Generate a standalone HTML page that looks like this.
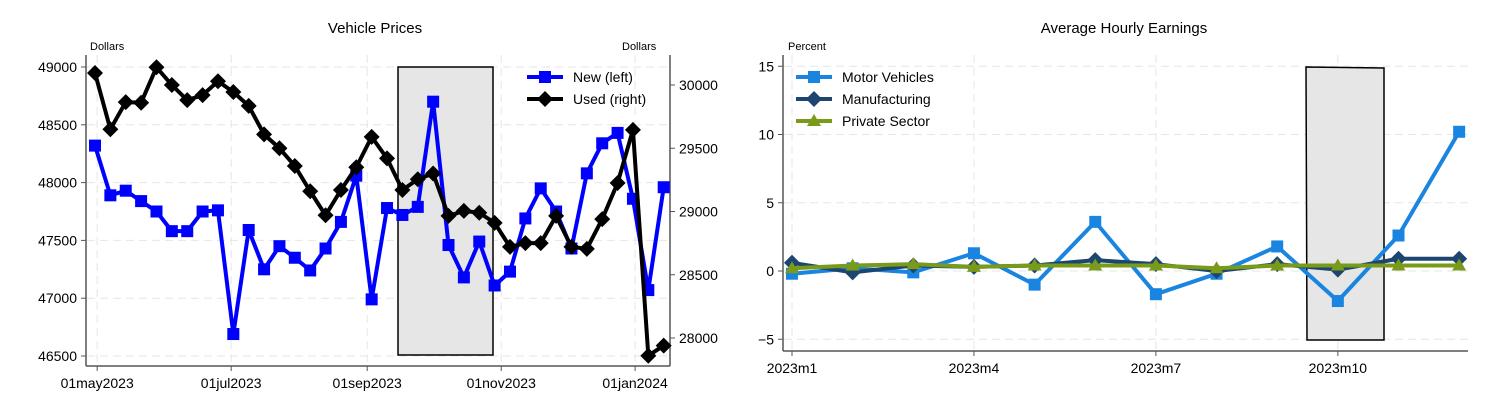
<!DOCTYPE html>
<html><head><meta charset="utf-8"><style>
body{margin:0;background:#fff;width:1500px;height:404px;overflow:hidden}
svg{font-family:"Liberation Sans",sans-serif}
</style></head><body>
<svg id="c" width="1500" height="404" viewBox="0 0 1500 404"></svg>
<script>
// ---- Vehicle Prices data ----
const newPrices=[48320,47890,47930,47840,47750,47580,47580,47750,47760,46690,47590,47250,47450,47350,47240,47430,47660,48060,46990,47780,47720,47790,48700,47460,47180,47490,47110,47230,47690,47950,47750,47430,48080,48340,48430,47860,47070,47960];
const usedPrices=[30095,29650,29865,29860,30140,30000,29880,29920,30030,29945,29835,29610,29500,29360,29160,28970,29170,29350,29590,29420,29170,29255,29300,28965,29005,28990,28910,28720,28750,28750,28965,28720,28705,28940,29225,29645,27860,27940];
const leftTicks=[46500,47000,47500,48000,48500,49000];
const rightTicks=[28000,28500,29000,29500,30000];
const dateTicks=["01may2023","01jul2023","01sep2023","01nov2023","01jan2024"];
const dateTickWeeks=[0.14,8.86,17.71,26.43,35.14];
// ---- Average Hourly Earnings data ----
const months=["2023m1","2023m2","2023m3","2023m4","2023m5","2023m6","2023m7","2023m8","2023m9","2023m10","2023m11","2023m12"];
const motorVehicles=[-0.2,0.2,-0.1,1.3,-1.0,3.6,-1.7,-0.2,1.8,-2.2,2.6,10.2];
const manufacturing=[0.6,-0.1,0.4,0.3,0.4,0.8,0.5,0.0,0.5,0.1,0.9,0.9];
const privateSector=[0.2,0.4,0.5,0.3,0.4,0.4,0.4,0.2,0.4,0.4,0.4,0.4];
const pctTicks=[-5,0,5,10,15];
const monthTickIdx=[0,3,6,9];

const svg=document.getElementById('c');
const NS='http://www.w3.org/2000/svg';
function mk(tag,attrs,parent){const e=document.createElementNS(NS,tag);for(const k in attrs)e.setAttribute(k,attrs[k]);(parent||svg).appendChild(e);return e;}
function txt(x,y,s,size,anchor,parent){const t=mk('text',{x:x,y:y,'font-size':size,'text-anchor':anchor||'start',fill:'#000'},parent);t.textContent=s;return t;}

// ===== Left chart =====
const xL=w=>95+w*15.37;
const yL=v=>67+(49000-v)*0.1156;
const yR=v=>85+(30000-v)*0.1265;
const g1=mk('g',{});


// gridlines
leftTicks.forEach(v=>{const l=mk('line',{x1:87,x2:669,y1:yL(v),y2:yL(v),stroke:'#e6e6e6','stroke-dasharray':'8,5'},g1);});
dateTickWeeks.forEach(w=>{const l=mk('line',{x1:xL(w),x2:xL(w),y1:55,y2:366,stroke:'#e6e6e6','stroke-dasharray':'8,5'},g1);});
// shaded box
const sb=mk('rect',{x:398,y:67,width:95,height:288,fill:'#e6e6e6',stroke:'#000','stroke-width':1.5},g1);


// axes
mk('line',{x1:86,x2:86,y1:55,y2:366,stroke:'#555','stroke-width':1.5},g1);
mk('line',{x1:86,x2:670,y1:366,y2:366,stroke:'#555','stroke-width':1.5},g1);
mk('line',{x1:670,x2:670,y1:55,y2:366,stroke:'#555','stroke-width':1.5},g1);
leftTicks.forEach(v=>{mk('line',{x1:81,x2:86,y1:yL(v),y2:yL(v),stroke:'#555'},g1);const t=txt(77,yL(v)+5,String(v),14,'end',g1);});
rightTicks.forEach(v=>{mk('line',{x1:670,x2:675,y1:yR(v),y2:yR(v),stroke:'#555'},g1);const t=txt(679,yR(v)+5,String(v),14,'start',g1);});
dateTicks.forEach((s,i)=>{const x=xL(dateTickWeeks[i]);mk('line',{x1:x,x2:x,y1:366,y2:371,stroke:'#555'},g1);const t=txt(x,388,s,14,'middle',g1);});
let t1=txt(375,33,'Vehicle Prices',15,'middle',g1);
let u1=txt(90,50,'Dollars',11,'start',g1);
let u2=txt(622,50,'Dollars',11,'start',g1);
// series
function series(arr,xf,yf,color,shape,g,name,w){
  const pts=arr.map((v,i)=>xf(i)+','+yf(v)).join(' ');
  const pl=mk('polyline',{points:pts,fill:'none',stroke:color,'stroke-width':w||4,'stroke-linejoin':'round'},g);
  
  
  arr.forEach((v,i)=>{const x=xf(i),y=yf(v);let m;
    if(shape==='sq')m=mk('rect',{x:x-6,y:y-6,width:12,height:12,fill:color},g);
    else if(shape==='di')m=mk('polygon',{points:`${x},${y-8} ${x+8},${y} ${x},${y+8} ${x-8},${y}`,fill:color},g);
    else m=mk('polygon',{points:`${x},${y-7} ${x+7},${y+5} ${x-7},${y+5}`,fill:color},g);
    
    });
}
series(newPrices,xL,yL,'#0000ff','sq',g1,'new-vehicle');
series(usedPrices,xL,yR,'#000','di',g1,'used-vehicle');
// legend
function legendEntry(x,y,color,shape,label,g,name){
  const lg=mk('g',{},g);
  
  
  mk('line',{x1:x,x2:x+36,y1:y,y2:y,stroke:color,'stroke-width':4},lg);
  const cx=x+18;
  if(shape==='sq')mk('rect',{x:cx-6,y:y-6,width:12,height:12,fill:color},lg);
  else if(shape==='di')mk('polygon',{points:`${cx},${y-8} ${cx+8},${y} ${cx},${y+8} ${cx-8},${y}`,fill:color},lg);
  else mk('polygon',{points:`${cx},${y-7} ${cx+7},${y+5} ${cx-7},${y+5}`,fill:color},lg);
  txt(x+46,y+5,label,14,'start',lg);
}
legendEntry(527,77,'#0000ff','sq','New (left)',g1,'legend-new');
legendEntry(527,99,'#000','di','Used (right)',g1,'legend-used');

// ===== Right chart =====
const xM=i=>792+i*60.65;
const yP=v=>271-v*13.65;
const g2=mk('g',{});


pctTicks.forEach(v=>{const l=mk('line',{x1:784,x2:1468,y1:yP(v),y2:yP(v),stroke:'#e6e6e6','stroke-dasharray':'8,5'},g2);});
monthTickIdx.forEach(i=>{const l=mk('line',{x1:xM(i),x2:xM(i),y1:55,y2:350,stroke:'#e6e6e6','stroke-dasharray':'8,5'},g2);});
const sb2=mk('polygon',{points:'1306,67 1384,68 1384,340 1307,340',fill:'#e6e6e6',stroke:'#000','stroke-width':1.5},g2);


mk('line',{x1:783,x2:783,y1:55,y2:351,stroke:'#555','stroke-width':1.5},g2);
mk('line',{x1:783,x2:1468,y1:351,y2:351,stroke:'#555','stroke-width':1.5},g2);
pctTicks.forEach(v=>{mk('line',{x1:778,x2:783,y1:yP(v),y2:yP(v),stroke:'#555'},g2);const t=txt(774,yP(v)+5,v<0?'\u2212'+Math.abs(v):String(v),14,'end',g2);});
monthTickIdx.forEach(i=>{mk('line',{x1:xM(i),x2:xM(i),y1:351,y2:356,stroke:'#555'},g2);const t=txt(xM(i),373,months[i],14,'middle',g2);});
let t2=txt(1124,33,'Average Hourly Earnings',15,'middle',g2);
let u3=txt(788,50,'Percent',11,'start',g2);
series(motorVehicles,xM,yP,'#1a85e0','sq',g2,'motor-vehicles');
series(manufacturing,xM,yP,'#1c4570','di',g2,'manufacturing');
series(privateSector,xM,yP,'#7a9a1a','tri',g2,'private-sector');
legendEntry(796,77,'#1a85e0','sq','Motor Vehicles',g2,'legend-motor-vehicles');
legendEntry(796,99,'#1c4570','di','Manufacturing',g2,'legend-manufacturing');
legendEntry(796,121,'#7a9a1a','tri','Private Sector',g2,'legend-private-sector');
</script>
</body></html>
